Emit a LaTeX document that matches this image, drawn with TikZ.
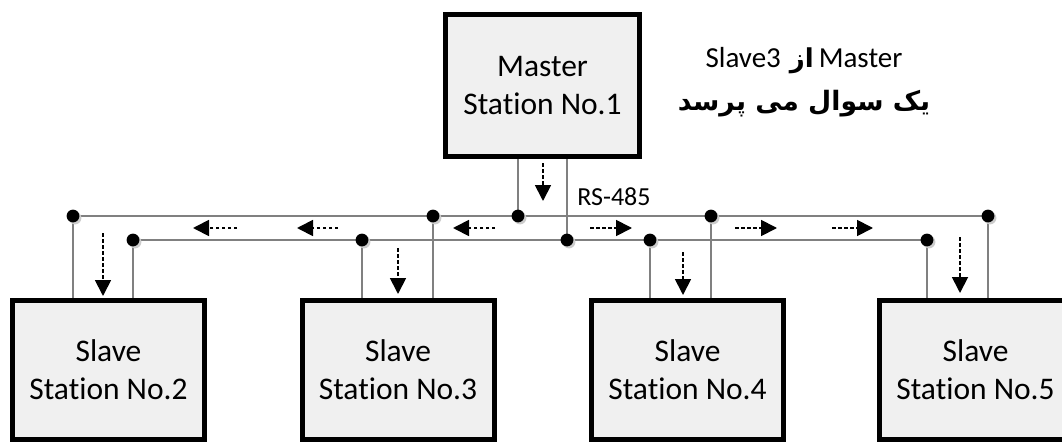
\documentclass[tikz,border=0pt]{standalone}
\usepackage{fontspec}
\setmainfont{Carlito}[Ligatures=NoCommon]
\newfontfamily\arabicfont[Script=Arabic]{DejaVu Sans}
\TeXXeTstate=1
\usetikzlibrary{arrows.meta}
\tikzset{
  station/.style={draw=black,line width=5pt,fill=black!6,minimum width=192pt,minimum height=139pt,
    inner sep=0pt,align=center,font=\fontsize{31.5}{38}\selectfont},
  masterbox/.style={station,minimum width=194pt,minimum height=142pt},
  wire/.style={draw=black!50,line width=1.3pt},
  flow/.style={draw=black,line width=1.8pt,dash pattern=on 3.5pt off 2.5pt,
    -{Triangle[length=16pt,width=16pt]}},
  label/.style={inner sep=0pt,font=\fontsize{26}{30}\selectfont},
}
\begin{document}
\begin{tikzpicture}[x=1pt,y=-1pt]
\clip (0,0) rectangle (1062,444);
\fill[white] (0,0) rectangle (1062,444);
% stations
\node[masterbox] (m) at (542.5,85.5) {Master\\Station No.1};
\node[station] (s2) at (108.5,370) {Slave\\Station No.2};
\node[station] (s3) at (398,370) {Slave\\Station No.3};
\node[station] (s4) at (687.5,370) {Slave\\Station No.4};
\node[station] (s5) at (975.5,370) {Slave\\Station No.5};
% bus junctions
\coordinate (tm) at (518,216);
\coordinate (bm) at (567,240);
\coordinate (t2) at (73,216);
\coordinate (b2) at (133,240);
\coordinate (b3) at (362,240);
\coordinate (t3) at (433,216);
\coordinate (b4) at (650,240);
\coordinate (t4) at (711,216);
\coordinate (b5) at (927,240);
\coordinate (t5) at (988,216);
% bus lines
\draw[wire] (t2) -- (t5);
\draw[wire] (b2) -- (b5);
% drops
\draw[wire] (m.south -| tm) -- (tm);
\draw[wire] (m.south -| bm) -- (bm);
\draw[wire] (t2) -- (t2 |- s2.north);
\draw[wire] (b2) -- (b2 |- s2.north);
\draw[wire] (b3) -- (b3 |- s3.north);
\draw[wire] (t3) -- (t3 |- s3.north);
\draw[wire] (b4) -- (b4 |- s4.north);
\draw[wire] (t4) -- (t4 |- s4.north);
\draw[wire] (b5) -- (b5 |- s5.north);
\draw[wire] (t5) -- (t5 |- s5.north);
% dots
\foreach \p in {tm,bm,t2,b2,b3,t3,b4,t4,b5,t5}{
  \fill[black!20] ([shift={(2,2)}]\p) circle (6.4pt);
  \fill[black] (\p) circle (6.4pt);
}
% flow arrows
\coordinate (fm1) at (543,163); \coordinate (fm2) at (543,201);
\coordinate (f21) at (103,233); \coordinate (f22) at (103,296);
\coordinate (f31) at (398,248); \coordinate (f32) at (398,294);
\coordinate (f41) at (683,252); \coordinate (f42) at (683,295);
\coordinate (f51) at (960,237); \coordinate (f52) at (960,293);
\draw[flow] (fm1) -- (fm2);
\draw[flow] (f21) -- (f22);
\draw[flow] (f31) -- (f32);
\draw[flow] (f41) -- (f42);
\draw[flow] (f51) -- (f52);
\coordinate (hl1a) at (237,228); \coordinate (hl1b) at (193,228);
\coordinate (hl2a) at (338,228); \coordinate (hl2b) at (297,228);
\coordinate (hl3a) at (495,228); \coordinate (hl3b) at (453,228);
\coordinate (hr1a) at (590,228); \coordinate (hr1b) at (632,228);
\coordinate (hr2a) at (735,228); \coordinate (hr2b) at (777,228);
\coordinate (hr3a) at (832,228); \coordinate (hr3b) at (873,228);
\draw[flow] (hl1a) -- (hl1b);
\draw[flow] (hl2a) -- (hl2b);
\draw[flow] (hl3a) -- (hl3b);
\draw[flow] (hr1a) -- (hr1b);
\draw[flow] (hr2a) -- (hr2b);
\draw[flow] (hr3a) -- (hr3b);
% labels
\node[label] (rs) at (614,197) {RS-485};
\node[label,anchor=base,font=\fontsize{29}{34}\selectfont] (q1) at (804,67) {Slave3\hspace{9pt}{\arabicfont\bfseries\fontsize{26}{30}\selectfont\beginR از\endR}\hspace{5pt}Master};
\node[label,anchor=base,font=\arabicfont\bfseries\fontsize{26.7}{30}\selectfont] (q2) at (804,110) {\beginR یک سوال می پرسد\endR};
\end{tikzpicture}
\end{document}
